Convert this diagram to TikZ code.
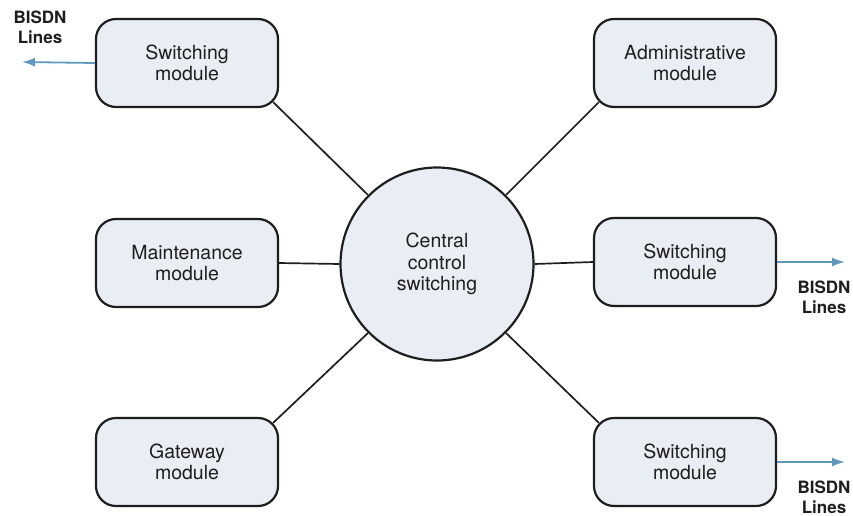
\documentclass[tikz,border=0pt]{standalone}
\usepackage{fontspec}
\setmainfont{TeX Gyre Heros}
\usetikzlibrary{calc,arrows.meta}
\definecolor{boxfill}{RGB}{232,238,244}
\definecolor{linkblue}{RGB}{95,152,186}
\definecolor{ink}{RGB}{30,30,30}
\begin{document}
\begin{tikzpicture}[x=1pt,y=-1pt,
  module/.style={draw=ink,line width=2.2pt,fill=boxfill,rounded corners=20pt,
    minimum width=182pt,minimum height=88pt,align=center,
    font=\fontsize{19.5}{21.5}\selectfont,text=ink},
  hub/.style={draw=ink,line width=2.2pt,fill=boxfill,circle,minimum size=193pt,
    align=center,font=\fontsize{19.5}{21.5}\selectfont,text=ink,inner sep=0pt},
  link/.style={draw=ink,line width=1.7pt},
  outline/.style={draw=linkblue,line width=1.8pt,-{Latex[length=13pt,width=9pt]}},
  lbl/.style={align=center,font=\bfseries\fontsize{17}{20}\selectfont,text=ink}]
\useasboundingbox (0,0) rectangle (853,516);
\node[hub] (c) at (437,264) {Central\\control\\switching};
\node[module] (sw1) at (187,63) {Switching\\module};
\node[module] (adm) at (685,63) {Administrative\\module};
\node[module] (mnt) at (187,263) {Maintenance\\module};
\node[module] (sw2) at (685,262) {Switching\\module};
\node[module] (gw) at (187,462) {Gateway\\module};
\node[module] (sw3) at (685,462) {Switching\\module};
\draw[link] (c.135) -- ($(sw1.south east)+(-6,-6)$);
\draw[link] (c.45) -- ($(adm.south west)+(6,-6)$);
\draw[link] (c.west) -- (mnt.east);
\draw[link] (c.east) -- (sw2.west);
\draw[link] (c.225) -- ($(gw.north east)+(-6,6)$);
\draw[link] (c.-45) -- ($(sw3.north west)+(6,6)$);
\coordinate (e1) at (22,62);
\coordinate (e2) at (845,262);
\coordinate (e3) at (845,462);
\draw[outline] (sw1.west) -- (e1);
\draw[outline] (sw2.east) -- (e2);
\draw[outline] (sw3.east) -- (e3);
\node[lbl] (l1) at (40,27) {BISDN\\Lines};
\node[lbl] (l2) at (824,297) {BISDN\\Lines};
\node[lbl] (l3) at (824,497) {BISDN\\Lines};
\end{tikzpicture}
\end{document}
